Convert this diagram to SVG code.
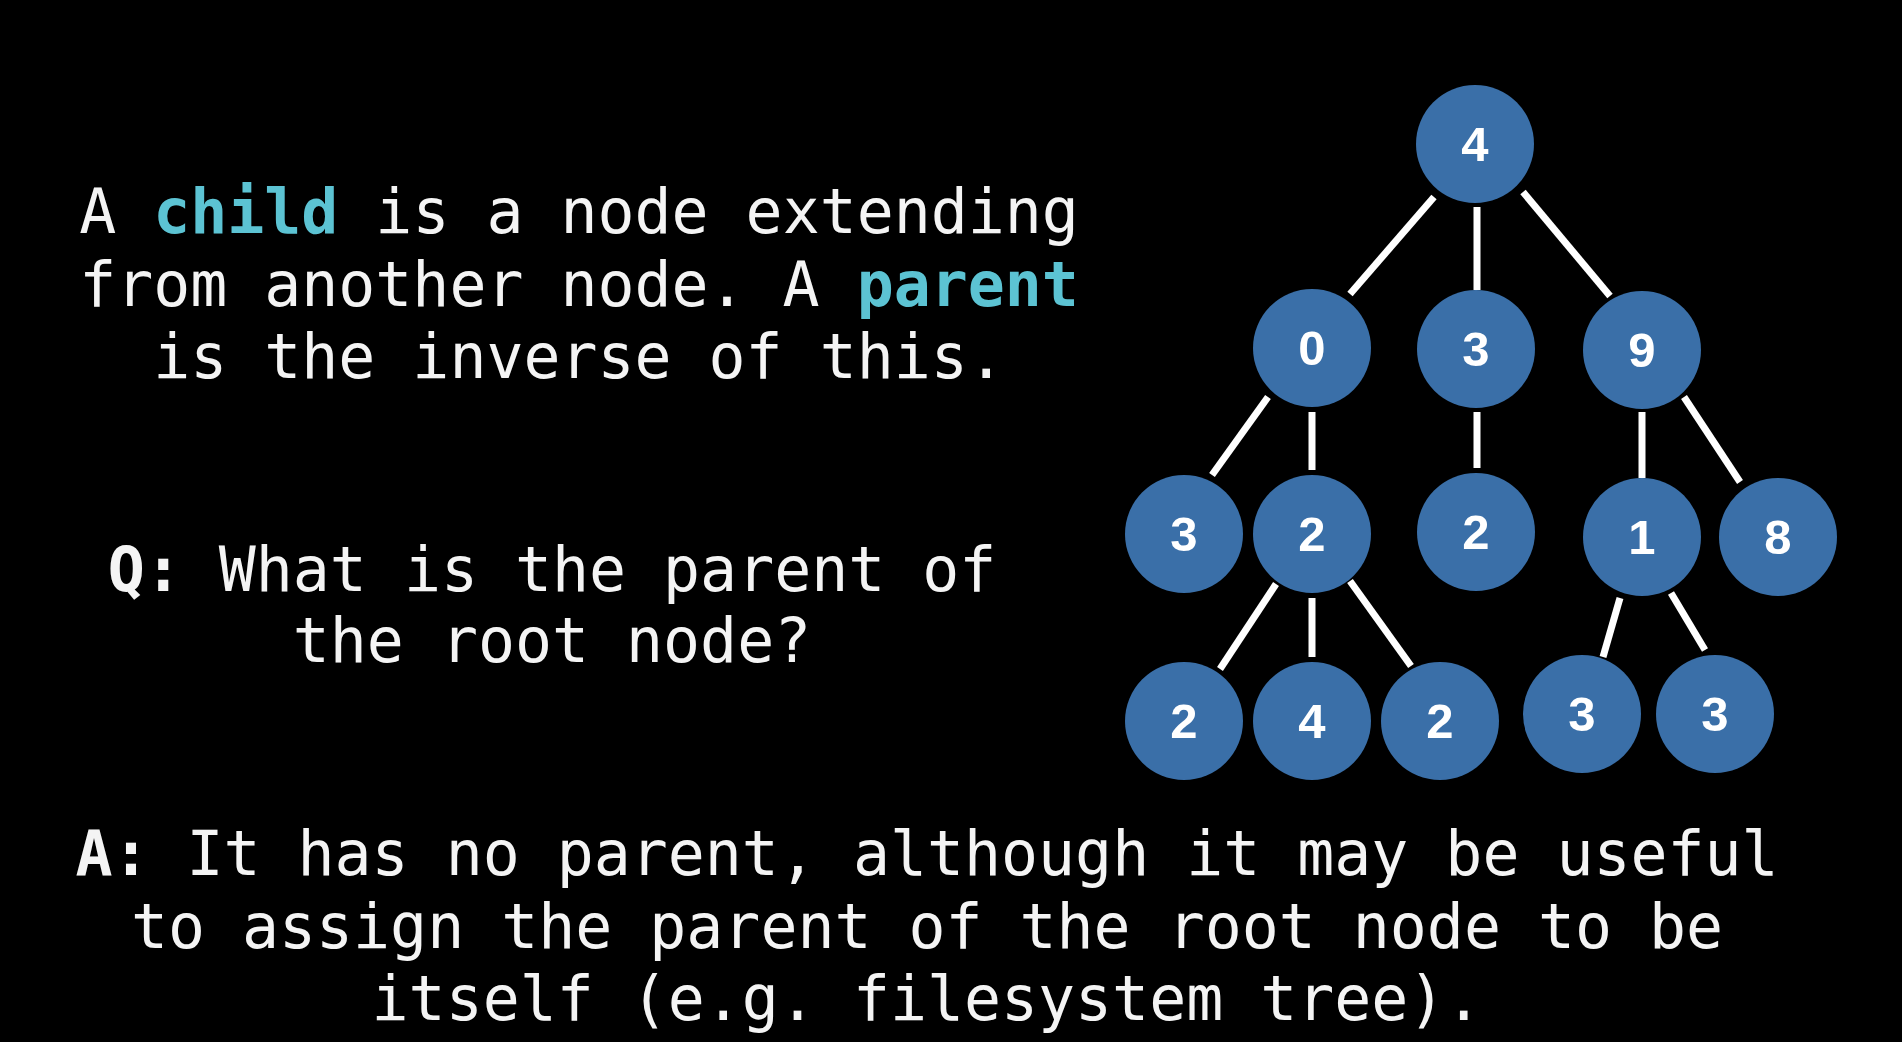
<svg xmlns="http://www.w3.org/2000/svg" width="1902" height="1042" viewBox="0 0 1902 1042">
<style>
.t{font-family:"DejaVu Sans Mono","Liberation Mono",monospace;font-size:61.5px;fill:#f4f4f4;text-anchor:middle}
.b{font-weight:bold}
.c{font-weight:bold;fill:#5cc3d3}
.n circle{fill:#3a6fa8}
.n text{font-family:"Liberation Sans",Arial,sans-serif;font-weight:bold;font-size:49px;fill:#ffffff;text-anchor:middle}
.e line{stroke:#ffffff;stroke-width:7}
</style>
<rect width="1902" height="1042" fill="#000000"/>
<g id="text-definition">
<text class="t" x="579" y="233">A <tspan class="c">child</tspan> is a node extending</text>
<text class="t" x="579" y="306">from another node. A <tspan class="c">parent</tspan></text>
<text class="t" x="579" y="378">is the inverse of this.</text>
</g>
<g id="text-question">
<text class="t" x="552" y="591"><tspan class="b">Q:</tspan> What is the parent of</text>
<text class="t" x="552" y="662">the root node?</text>
</g>
<g id="text-answer">
<text class="t" x="927" y="875"><tspan class="b">A:</tspan> It has no parent, although it may be useful</text>
<text class="t" x="927" y="948">to assign the parent of the root node to be</text>
<text class="t" x="927" y="1020">itself (e.g. filesystem tree).</text>
</g>
<g id="connectors" class="e">
<line x1="1434" y1="197" x2="1350" y2="294"/>
<line x1="1477" y1="207" x2="1477" y2="290"/>
<line x1="1523" y1="192" x2="1610" y2="296"/>
<line x1="1268" y1="397" x2="1212" y2="475"/>
<line x1="1312" y1="412" x2="1312" y2="470"/>
<line x1="1477" y1="412" x2="1477" y2="468"/>
<line x1="1642" y1="412" x2="1642" y2="478"/>
<line x1="1684" y1="397" x2="1740" y2="482"/>
<line x1="1276" y1="584" x2="1220" y2="669"/>
<line x1="1312" y1="598" x2="1312" y2="657"/>
<line x1="1350" y1="581" x2="1411" y2="666"/>
<line x1="1620" y1="598" x2="1603" y2="657"/>
<line x1="1671" y1="593" x2="1705" y2="650"/>
</g>
<g id="node-root" class="n"><circle cx="1475" cy="144" r="59"/><text x="1475" y="161">4</text></g>
<g id="node-0" class="n"><circle cx="1312" cy="348" r="59"/><text x="1312" y="365">0</text></g>
<g id="node-3a" class="n"><circle cx="1476" cy="349" r="59"/><text x="1476" y="366">3</text></g>
<g id="node-9" class="n"><circle cx="1642" cy="350" r="59"/><text x="1642" y="367">9</text></g>
<g id="node-3b" class="n"><circle cx="1184" cy="534" r="59"/><text x="1184" y="551">3</text></g>
<g id="node-2a" class="n"><circle cx="1312" cy="534" r="59"/><text x="1312" y="551">2</text></g>
<g id="node-2b" class="n"><circle cx="1476" cy="532" r="59"/><text x="1476" y="549">2</text></g>
<g id="node-1" class="n"><circle cx="1642" cy="537" r="59"/><text x="1642" y="554">1</text></g>
<g id="node-8" class="n"><circle cx="1778" cy="537" r="59"/><text x="1778" y="554">8</text></g>
<g id="node-2c" class="n"><circle cx="1184" cy="721" r="59"/><text x="1184" y="738">2</text></g>
<g id="node-4" class="n"><circle cx="1312" cy="721" r="59"/><text x="1312" y="738">4</text></g>
<g id="node-2d" class="n"><circle cx="1440" cy="721" r="59"/><text x="1440" y="738">2</text></g>
<g id="node-3c" class="n"><circle cx="1582" cy="714" r="59"/><text x="1582" y="731">3</text></g>
<g id="node-3d" class="n"><circle cx="1715" cy="714" r="59"/><text x="1715" y="731">3</text></g>
</svg>
